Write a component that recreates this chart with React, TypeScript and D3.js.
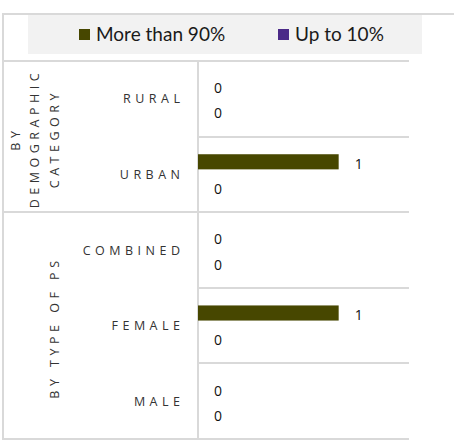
import * as d3 from 'd3'

// chart values
const categories = ['RURAL', 'URBAN', 'COMBINED', 'FEMALE', 'MALE']
const categoryGroup = [0, 0, 1, 1, 1]
const groupTitles = [['BY', 'DEMOGRAPHIC', 'CATEGORY'], ['BY TYPE OF PS']]
const seriesNames = ['More than 90%', 'Up to 10%']
const seriesColors = ['#474700', '#4b2a88']
const moreThan90 = [0, 1, 0, 1, 0]
const upTo10 = [0, 0, 0, 0, 0]
const xDomainMax = 1.5

const W = 454
const H = 441
const GRID = '#d9d9d9'

export default function App() {
  const series = [moreThan90, upTo10]

  const plotLeft = 198
  const plotRight = 409
  const top = 61
  const bottom = 439

  const y = d3.scaleBand<string>().domain(categories).range([top, bottom]).padding(0)
  const ySub = d3
    .scaleBand<number>()
    .domain(d3.range(series.length))
    .range([0, y.bandwidth()])
    .paddingInner(0.4)
    .paddingOuter(0.7)
  const x = d3.scaleLinear().domain([0, xDomainMax]).range([plotLeft, plotRight])

  // group extents
  const groups = groupTitles.map((lines, gi) => {
    const cats = categories.filter((_, i) => categoryGroup[i] === gi)
    const y0 = y(cats[0])!
    const y1 = y(cats[cats.length - 1])! + y.bandwidth()
    return { lines, y0, y1 }
  })

  const labelFont = "'Open Sans', 'DejaVu Sans', sans-serif"

  return (
    <div style={{ position: 'absolute', left: 0, top: 0 }}>
      <svg width={W} height={H} style={{ display: 'block', background: '#fff' }}>
        {/* legend band */}
        <rect x={28} y={15} width={394} height={39} fill="#f2f2f2" />
        {seriesNames.map((name, i) => {
          const lx = i === 0 ? 79 : 278
          return (
            <g key={name}>
              <rect x={lx} y={29} width={11} height={11} fill={seriesColors[i]} />
              <text
                x={lx + 17}
                y={40.5}
                fontFamily="Lato, 'Open Sans', sans-serif"
                fontSize={19}
                fill="#1a1a1a"
              >
                {name}
              </text>
            </g>
          )
        })}

        {/* outer frame */}
        <line x1={3} x2={W} y1={14} y2={14} stroke={GRID} strokeWidth={2} />
        <line x1={3} x2={3} y1={13} y2={bottom + 1} stroke={GRID} strokeWidth={2} />

        {/* row separators */}
        {categories.map((c, i) => {
          const yy = Math.round(y(c)!)
          const fullWidth = i === 0 || categoryGroup[i] !== categoryGroup[i - 1]
          return (
            <line
              key={'r' + c}
              x1={fullWidth ? 3 : plotLeft}
              x2={plotRight}
              y1={yy}
              y2={yy}
              stroke={GRID}
              strokeWidth={2}
            />
          )
        })}
        <line x1={3} x2={plotRight} y1={bottom} y2={bottom} stroke={GRID} strokeWidth={2} />
        <line x1={plotLeft} x2={plotLeft} y1={top} y2={bottom} stroke={GRID} strokeWidth={2} />

        {/* bars */}
        {categories.map((c, ci) =>
          series.map((vals, si) => {
            const v = vals[ci]
            const by = y(c)! + ySub(si)!
            const bh = ySub.bandwidth()
            return (
              <g key={c + si}>
                {v > 0 && (
                  <rect
                    x={x(0)}
                    y={by}
                    width={x(v) - x(0)}
                    height={bh}
                    fill={seriesColors[si]}
                  />
                )}
                <text
                  x={x(v) + 16}
                  y={by + bh / 2 + 1.5}
                  dominantBaseline="central"
                  fontFamily={labelFont}
                  fontSize={14}
                  fill="#111"
                >
                  {v}
                </text>
              </g>
            )
          })
        )}

        {/* category labels */}
        {categories.map((c) => (
          <text
            key={'l' + c}
            x={184.5}
            y={y(c)! + y.bandwidth() / 2}
            textAnchor="end"
            dominantBaseline="central"
            fontFamily={labelFont}
            fontSize={12.5}
            letterSpacing={4.5}
            fill="#333"
          >
            {c}
          </text>
        ))}

        {/* group titles */}
        {groups.map((g, gi) => {
          const cy = (g.y0 + g.y1) / 2
          const n = g.lines.length
          return g.lines.map((line, li) => {
            const lx = 54 - (n - 1 - li) * 19.5
            return (
              <text
                key={'g' + gi + li}
                transform={`translate(${lx},${cy + 2}) rotate(-90)`}
                textAnchor="middle"
                dominantBaseline="central"
                fontFamily={labelFont}
                fontSize={12.5}
                letterSpacing={4.5}
                fill="#333"
              >
                {line}
              </text>
            )
          })
        })}
      </svg>
    </div>
  )
}
